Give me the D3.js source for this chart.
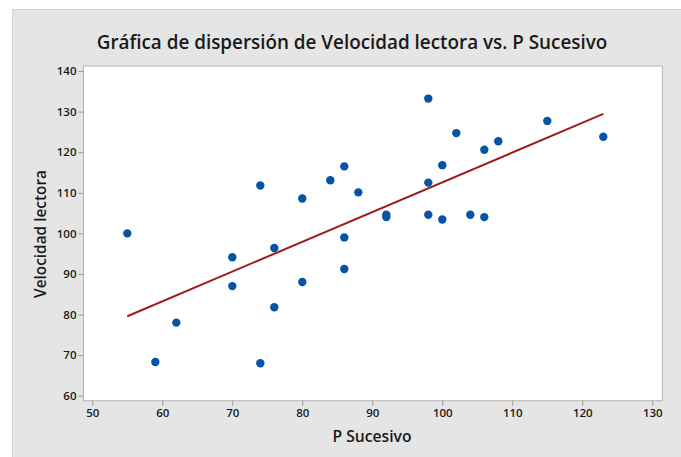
<!DOCTYPE html>
<html>
<head>
<meta charset="utf-8">
<script src="https://cdn.jsdelivr.net/npm/d3@7"></script>
<style>
  body { margin: 0; background: #fff; }
  svg { display: block; font-family: "Open Sans", "Noto Sans", sans-serif; }
</style>
</head>
<body>
<svg id="chart" width="681" height="457"></svg>
<script>
// P Sucesivo (x) and Velocidad lectora (y)
var pSucesivo = [55, 59, 62, 70, 70, 74, 74, 76, 76, 80, 80, 84, 86, 86, 86, 88,
                 92, 92, 98, 98, 98, 100, 100, 102, 104, 106, 106, 108, 115, 123];
var velocidad = [100, 68.3, 78, 94.1, 87, 111.8, 68, 96.4, 81.8, 108.6, 88, 113.1, 116.5, 99, 91.2, 110.1,
                 104.6, 104, 133.2, 112.5, 104.6, 116.8, 103.4, 124.7, 104.6, 120.6, 104, 122.7, 127.7, 123.8];
var xTicks = [50, 60, 70, 80, 90, 100, 110, 120, 130];
var yTicks = [60, 70, 80, 90, 100, 110, 120, 130, 140];

var titleText = "Gráfica de dispersión de Velocidad lectora vs. P Sucesivo";
var xLabel = "P Sucesivo";
var yLabel = "Velocidad lectora";

var svg = d3.select("#chart");

var plot = {left: 83.5, top: 66, right: 662.3, bottom: 400.7};

//outer grey panel
svg.append("rect")
    .attr("x", 12.5).attr("y", 9.5)
    .attr("width", 681).attr("height", 460)
    .attr("fill", "#e5e5e5")
    .attr("stroke", "#d2d2d2");

svg.append("rect")
    .attr("x", plot.left).attr("y", plot.top)
    .attr("width", plot.right - plot.left).attr("height", plot.bottom - plot.top)
    .attr("fill", "#fff")
    .attr("stroke", "#b3b3b3");

var x = d3.scaleLinear().domain([48.74, 131.43]).range([plot.left, plot.right]);
var y = d3.scaleLinear().domain([58.77, 141.23]).range([plot.bottom, plot.top]);

var xAxis = d3.axisBottom(x).tickValues(xTicks).tickSize(5).tickPadding(3).tickSizeOuter(0);
var yAxis = d3.axisLeft(y).tickValues(yTicks).tickSize(5).tickPadding(2).tickSizeOuter(0);

var gx = svg.append("g")
    .attr("transform", "translate(0," + plot.bottom + ")")
    .call(xAxis);
var gy = svg.append("g")
    .attr("transform", "translate(" + plot.left + ",0)")
    .call(yAxis);

[gx, gy].forEach(function(g) {
  g.select(".domain").remove();
  g.selectAll(".tick line").attr("stroke", "#9a9a9a");
  g.selectAll(".tick text")
    .attr("fill", "#1a1a1a")
    .style("font-family", "'Open Sans', sans-serif")
    .style("font-size", "11.5px")
    .style("font-weight", "600");
});

//fit text to the measured width
function fitWidth(t, w) {
  var len = t.node().getComputedTextLength();
  var fs = parseFloat(t.style("font-size"));
  t.style("font-size", (fs * w / len) + "px");
}

var title = svg.append("text")
    .attr("x", 352).attr("y", 49)
    .attr("text-anchor", "middle")
    .attr("fill", "#1a1a1a")
    .style("font-size", "19px")
    .style("font-weight", "600")
    .text(titleText);
fitWidth(title, 511);

var xt = svg.append("text")
    .attr("x", 372).attr("y", 442.3)
    .attr("text-anchor", "middle")
    .attr("fill", "#1a1a1a")
    .style("font-size", "15px")
    .style("font-weight", "600")
    .text(xLabel);
fitWidth(xt, 79);

var yt = svg.append("text")
    .attr("transform", "translate(45.5,234) rotate(-90)")
    .attr("text-anchor", "middle")
    .attr("fill", "#1a1a1a")
    .style("font-size", "15px")
    .style("font-weight", "600")
    .text(yLabel);
fitWidth(yt, 128);

//least squares fit line
var mx = d3.mean(pSucesivo), my = d3.mean(velocidad);
var sxy = d3.sum(pSucesivo, function(v, i) { return (v - mx) * (velocidad[i] - my); });
var sxx = d3.sum(pSucesivo, function(v) { return (v - mx) * (v - mx); });
var slope = sxy / sxx, intercept = my - slope * mx;
var xr = d3.extent(pSucesivo);

svg.append("line")
    .attr("x1", x(xr[0])).attr("y1", y(intercept + slope * xr[0]))
    .attr("x2", x(xr[1])).attr("y2", y(intercept + slope * xr[1]))
    .attr("stroke", "#a01c1c")
    .attr("stroke-width", 2);

svg.append("g")
  .selectAll("circle")
  .data(pSucesivo)
  .enter().append("circle")
    .attr("cx", function(d) { return x(d); })
    .attr("cy", function(d, i) { return y(velocidad[i]); })
    .attr("r", 4.2)
    .attr("fill", "#0754a6");
</script>
</body>
</html>
